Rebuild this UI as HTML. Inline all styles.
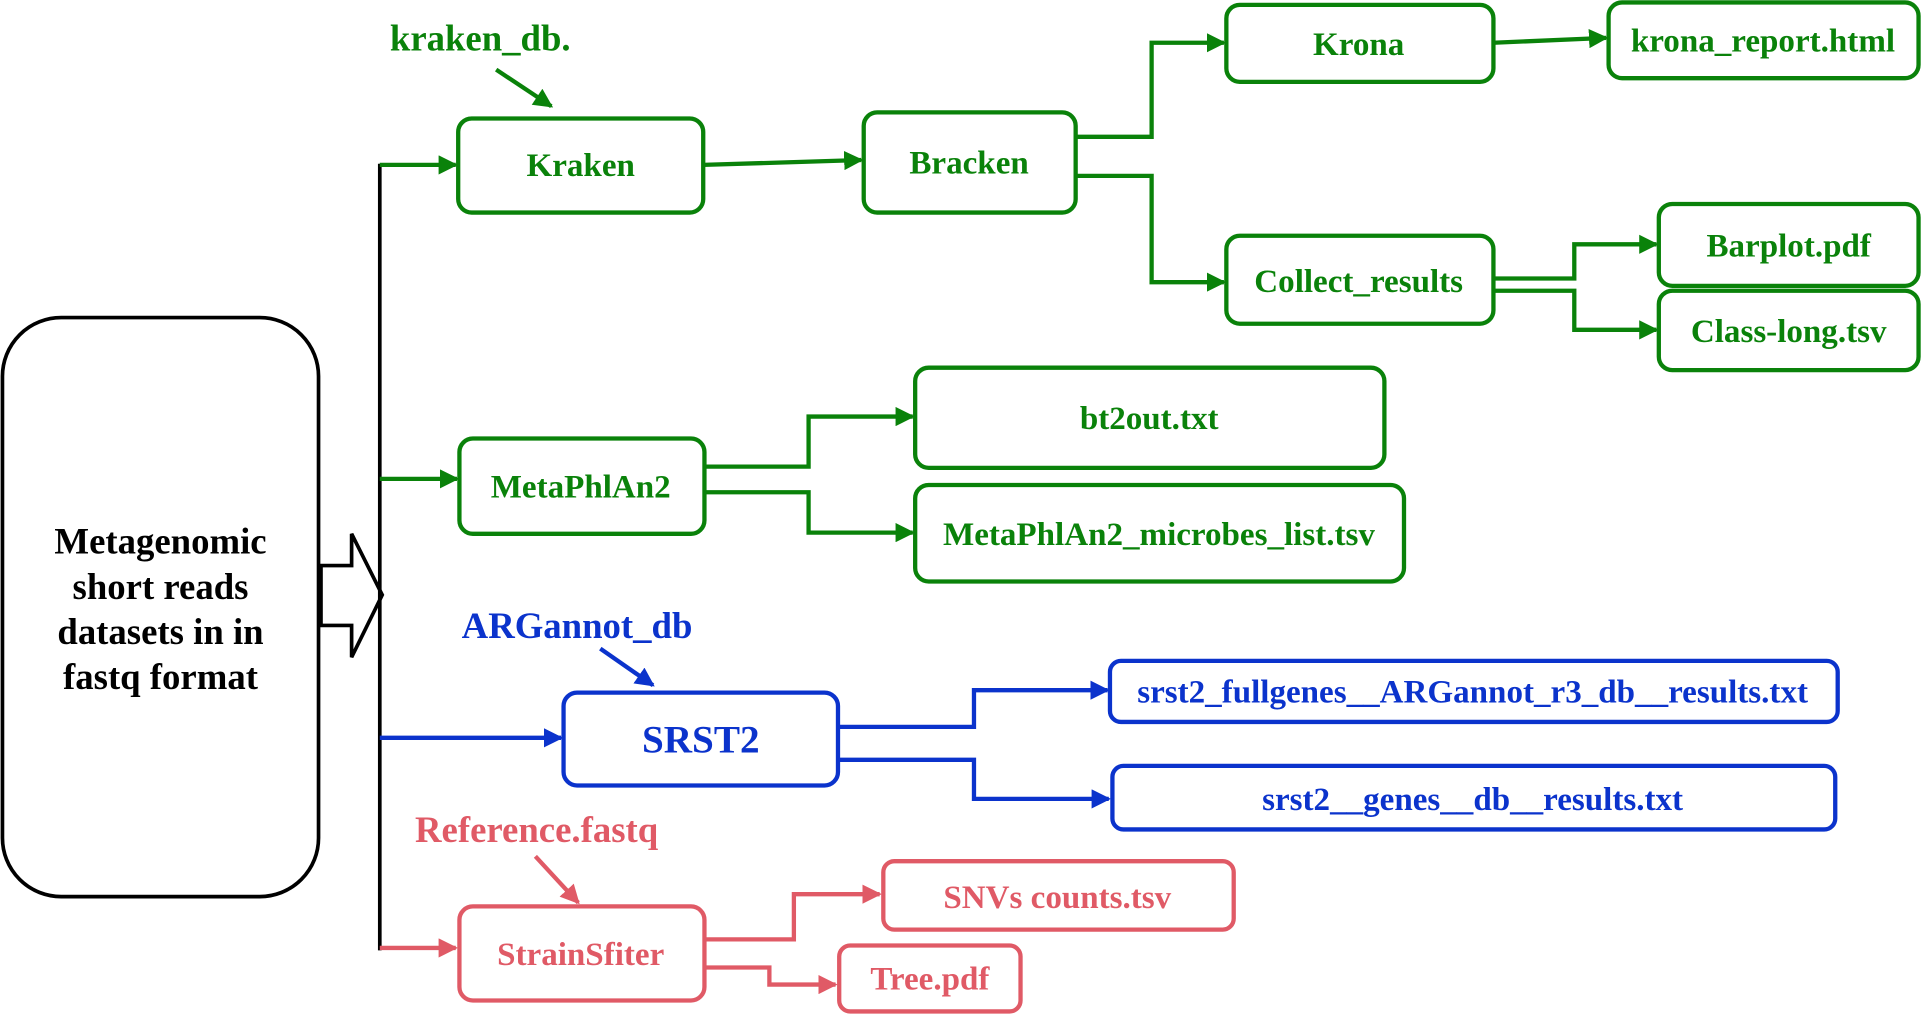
<!DOCTYPE html>
<html><head><meta charset="utf-8"><style>
html,body{margin:0;padding:0;background:#fff;}
svg{display:block;}
text{font-family:"Liberation Serif",serif;font-weight:bold;text-anchor:middle;dominant-baseline:central;}
</style></head><body>
<svg width="1921" height="1020" viewBox="0 0 1568 835" preserveAspectRatio="none" xmlns="http://www.w3.org/2000/svg">
<defs>
<marker id="g" markerWidth="4.5" markerHeight="4.5" refX="4" refY="2.25" orient="auto" markerUnits="strokeWidth"><path d="M0,0 L4.5,2.25 L0,4.5z" fill="#0a820a"/></marker>
<marker id="b" markerWidth="4.5" markerHeight="4.5" refX="4" refY="2.25" orient="auto" markerUnits="strokeWidth"><path d="M0,0 L4.5,2.25 L0,4.5z" fill="#0b33cc"/></marker>
<marker id="r" markerWidth="4.5" markerHeight="4.5" refX="4" refY="2.25" orient="auto" markerUnits="strokeWidth"><path d="M0,0 L4.5,2.25 L0,4.5z" fill="#e05a66"/></marker>
</defs>
<rect x="2" y="260" width="258" height="474" rx="48" fill="none" stroke="#000" stroke-width="3"/>
<g font-size="30" fill="#000">
<text x="131" y="443">Metagenomic</text>
<text x="131" y="480">short reads</text>
<text x="131" y="517">datasets in in</text>
<text x="131" y="554">fastq format</text>
</g>
<polygon points="262,463 287,463 287,437 312,487 287,538 287,512 262,512" fill="#fff" stroke="#000" stroke-width="3"/>
<line x1="310" y1="134" x2="310" y2="778" stroke="#000" stroke-width="3"/>

<g stroke="#0a820a" stroke-width="3.5" fill="none">
<path d="M310,135 H372" marker-end="url(#g)"/>
<path d="M405,57 L450,87" marker-end="url(#g)"/>
<path d="M574,135 L703,131" marker-end="url(#g)"/>
<path d="M878,112 H940 V35 H999" marker-end="url(#g)"/>
<path d="M878,144 H940 V231 H999" marker-end="url(#g)"/>
<path d="M1219,35 L1311,31" marker-end="url(#g)"/>
<path d="M1219,228 H1285 V200 H1352" marker-end="url(#g)"/>
<path d="M1219,238 H1285 V270 H1352" marker-end="url(#g)"/>
<path d="M310,392 H373" marker-end="url(#g)"/>
<path d="M575,382 H660 V341 H745" marker-end="url(#g)"/>
<path d="M575,403 H660 V436 H745" marker-end="url(#g)"/>
<rect x="374" y="97" width="200" height="77" rx="11"/>
<rect x="705" y="92" width="173" height="82" rx="11"/>
<rect x="1001" y="4" width="218" height="63" rx="11"/>
<rect x="1313" y="2" width="253" height="62" rx="11"/>
<rect x="1001" y="193" width="218" height="72" rx="11"/>
<rect x="1354" y="167" width="212" height="67" rx="11"/>
<rect x="1354" y="238" width="212" height="65" rx="11"/>
<rect x="375" y="359" width="200" height="78" rx="11"/>
<rect x="747" y="301" width="383" height="82" rx="11"/>
<rect x="747" y="397" width="399" height="79" rx="11"/>
</g>
<g fill="#0a820a" font-size="27">
<text x="392" y="31" font-size="30">kraken_db.</text>
<text x="474" y="136">Kraken</text>
<text x="791" y="134">Bracken</text>
<text x="1109" y="37">Krona</text>
<text x="1439" y="34">krona_report.html</text>
<text x="1109" y="231">Collect_results</text>
<text x="1460" y="202">Barplot.pdf</text>
<text x="1460" y="272">Class-long.tsv</text>
<text x="474" y="399">MetaPhlAn2</text>
<text x="938" y="343">bt2out.txt</text>
<text x="946" y="438">MetaPhlAn2_microbes_list.tsv</text>
</g>

<g stroke="#0b33cc" stroke-width="3.5" fill="none">
<path d="M490,531 L533,561" marker-end="url(#b)"/>
<path d="M310,604 H458" marker-end="url(#b)"/>
<path d="M684,595 H795 V565 H904" marker-end="url(#b)"/>
<path d="M684,622 H795 V654 H905" marker-end="url(#b)"/>
<rect x="460" y="567" width="224" height="76" rx="11"/>
<rect x="906" y="541" width="594" height="50" rx="9"/>
<rect x="908" y="627" width="590" height="52" rx="9"/>
</g>
<g fill="#0b33cc" font-size="27">
<text x="471" y="512" font-size="30">ARGannot_db</text>
<text x="572" y="606" font-size="32">SRST2</text>
<text x="1202" y="567">srst2_fullgenes__ARGannot_r3_db__results.txt</text>
<text x="1202" y="655">srst2__genes__db__results.txt</text>
</g>

<g stroke="#e05a66" stroke-width="3.5" fill="none">
<path d="M437,701 L472,739" marker-end="url(#r)"/>
<path d="M310,776 H372" marker-end="url(#r)"/>
<path d="M575,769 H648 V732 H718" marker-end="url(#r)"/>
<path d="M575,792 H628 V806 H682" marker-end="url(#r)"/>
<rect x="375" y="742" width="200" height="77" rx="11"/>
<rect x="721" y="705" width="286" height="56" rx="9"/>
<rect x="685" y="774" width="148" height="54" rx="9"/>
</g>
<g fill="#e05a66" font-size="27">
<text x="438" y="679" font-size="30">Reference.fastq</text>
<text x="474" y="782">StrainSfiter</text>
<text x="863" y="735">SNVs counts.tsv</text>
<text x="759" y="802">Tree.pdf</text>
</g>
</svg>
</body></html>
